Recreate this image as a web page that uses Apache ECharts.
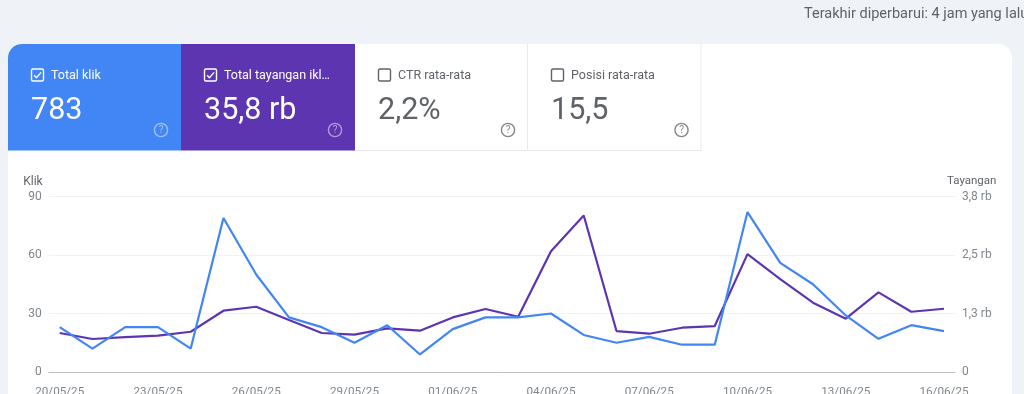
<!DOCTYPE html>
<html><head><meta charset="utf-8">
<style>html,body{margin:0;padding:0;background:#eff3f8;overflow:hidden}#c{width:1024px;height:394px}</style>
<script src="https://cdn.jsdelivr.net/npm/echarts@6/dist/echarts.min.js"></script>
</head><body><div id="c"></div>
<script>
const dates = ['20/05/25','21/05/25','22/05/25','23/05/25','24/05/25','25/05/25','26/05/25','27/05/25','28/05/25','29/05/25','30/05/25','31/05/25','01/06/25','02/06/25','03/06/25','04/06/25','05/06/25','06/06/25','07/06/25','08/06/25','09/06/25','10/06/25','11/06/25','12/06/25','13/06/25','14/06/25','15/06/25','16/06/25'];
const klik = [23,12,23,23,12,79,50,28,23,15,24,9,22,28,28,30,19,15,18,14,14,82,56,45,29,17,24,21];
const tayangan = [844,714,757,786,872,1327,1413,1125,844,808,945,894,1182,1363,1197,2617,3389,887,829,959,995,2552,2012,1500,1154,1723,1305,1370];
const rightTicks = ['0','1,3 rb','2,5 rb','3,8 rb'];
const cards = [
  {label:'Total klik',value:'783',on:true,bg:'#4285f4'},
  {label:'Total tayangan ikl…',value:'35,8 rb',on:true,bg:'#5e35b1'},
  {label:'CTR rata-rata',value:'2,2%',on:false,bg:'#ffffff'},
  {label:'Posisi rata-rata',value:'15,5',on:false,bg:'#ffffff'}
];
const FONT = 'Roboto';
const graphics = [
  {type:'rect',z:-20,shape:{x:8,y:44,width:1004,height:370,r:14},style:{fill:'#ffffff'}},
  {type:'text',x:804,y:7,style:{text:'Terakhir diperbarui: 4 jam yang lalu',font:'14.5px '+FONT,fill:'#5f6368',textVerticalAlign:'top'}}
];
const edges = [8,181,355,528,701.5];
cards.forEach((c,i)=>{
  const x0 = edges[i], x1 = edges[i+1], w = x1-x0;
  const fg = c.on ? '#ffffff' : '#5f6368';
  const r = i===0 ? [14,0,0,0] : 0;
  graphics.push({type:'rect',z:-10,shape:{x:x0,y:44,width:w,height:106.5,r:r},style:{fill:c.bg}});
  if(!c.on){
    graphics.push({type:'line',z:-9,shape:{x1:x0,y1:150.5,x2:x1,y2:150.5},style:{stroke:'#e3e5e8',lineWidth:1}});
    graphics.push({type:'line',z:-9,shape:{x1:x1-0.5,y1:44,x2:x1-0.5,y2:151},style:{stroke:'#e8eaed',lineWidth:1}});
  }
  const bx = x0+23.5, by = 69;
  graphics.push({type:'rect',shape:{x:bx,y:by,width:12,height:12,r:1.5},style:{fill:'none',stroke:fg,lineWidth:1.4}});
  if(c.on) graphics.push({type:'polyline',shape:{points:[[bx+2.6,by+6.2],[bx+5,by+8.8],[bx+9.6,by+3.4]]},style:{fill:'none',stroke:fg,lineWidth:1.4}});
  graphics.push({type:'text',x:x0+43,y:75.5,style:{text:c.label,font:'12.5px '+FONT,fill:c.on?'#ffffff':'#5f6368',textVerticalAlign:'middle'}});
  graphics.push({type:'text',x:x0+23,y:111.5,style:{text:c.value,font:'30.5px '+FONT,fill:c.on?'#ffffff':'#5f6368',textVerticalAlign:'middle'}});
  const qc = c.on ? 'rgba(255,255,255,0.5)' : '#80868b';
  graphics.push({type:'circle',shape:{cx:x1-20,cy:130,r:6.6},style:{fill:'none',stroke:qc,lineWidth:1.4}});
  graphics.push({type:'text',x:x1-20,y:130.5,style:{text:'?',font:'10px '+FONT,fill:qc,textAlign:'center',textVerticalAlign:'middle'}});
});
const axisText = {color:'#80868b',fontFamily:FONT,fontSize:12};
const chart = echarts.init(document.getElementById('c'));
chart.setOption({
  animation:false,
  backgroundColor:'#eff3f8',
  graphic:{elements:graphics},
  grid:{left:48.7,right:69,top:196.5,bottom:22,containLabel:false,outerBoundsMode:'none'},
  xAxis:{type:'value',min:-0.336,max:27.336,
    splitLine:{show:false},axisTick:{show:false},
    axisLine:{lineStyle:{color:'#bdbfc2',width:1}},
    axisLabel:{...axisText,fontSize:11.7,margin:14,customValues:dates.map((d,i)=>i).filter(i=>i%3===0),formatter:v=>dates[Math.round(v)]}},
  yAxis:[
    {type:'value',min:0,max:90,interval:30,position:'left',
     name:'Klik',nameLocation:'end',nameGap:9,
     nameTextStyle:{color:'#5f6368',fontFamily:FONT,fontSize:12,align:'right',padding:[0,17,0,0]},
     axisLine:{show:false},axisTick:{show:false},
     axisLabel:{...axisText,margin:7},
     splitLine:{lineStyle:{color:'#f1f2f3',width:1}}},
    {type:'value',min:0,max:3900,interval:1300,position:'right',
     name:'Tayangan',nameLocation:'end',nameGap:9,
     nameTextStyle:{color:'#5f6368',fontFamily:FONT,fontSize:11.5,align:'left',padding:[0,0,0,-8]},
     axisLine:{show:false},axisTick:{show:false},
     axisLabel:{...axisText,margin:7,formatter:v=>rightTicks[Math.round(v/1300)]},
     splitLine:{show:false}}
  ],
  series:[
    {type:'line',name:'Total tayangan',yAxisIndex:1,symbol:'none',silent:true,lineStyle:{color:'#5e35b1',width:2.2},data:tayangan.map((v,i)=>[i,v*3900/3800])},
    {type:'line',name:'Total klik',yAxisIndex:0,symbol:'none',silent:true,lineStyle:{color:'#4285f4',width:2.2},data:klik.map((v,i)=>[i,v])}
  ]
});
</script></body></html>
